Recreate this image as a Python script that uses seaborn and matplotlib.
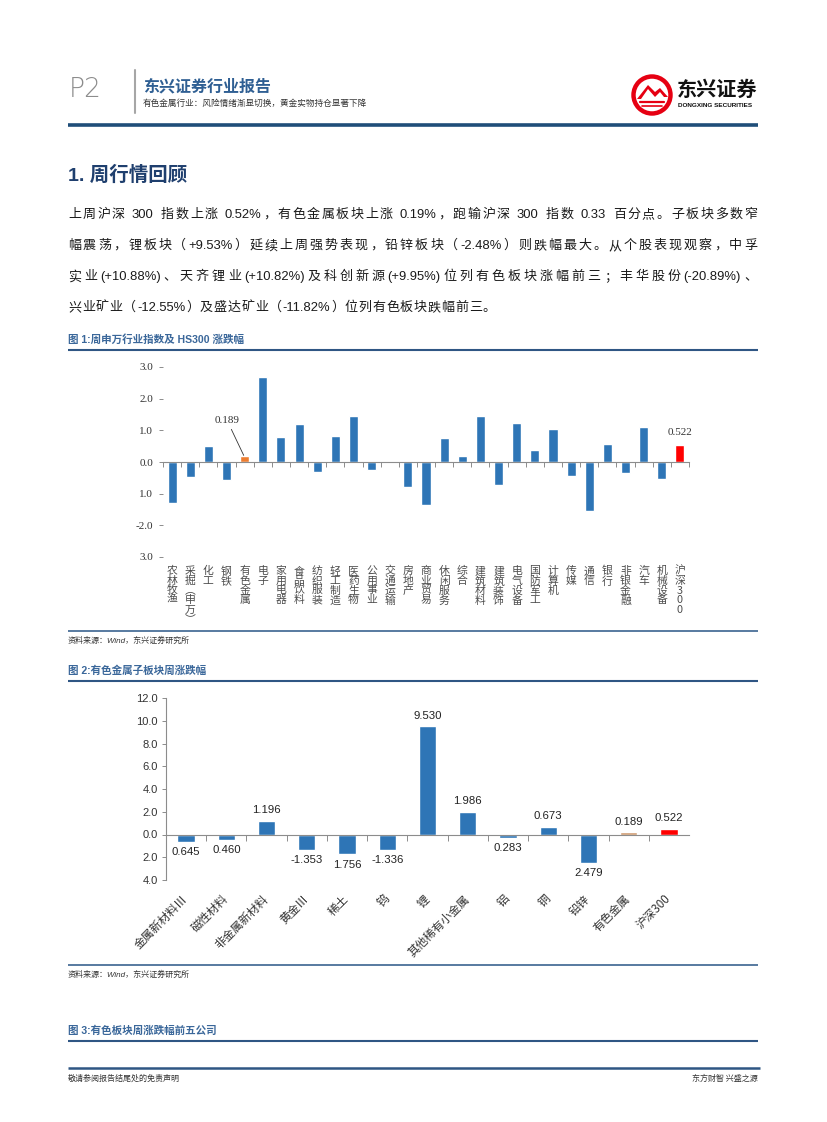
import re
import numpy as np
import pandas as pd
import seaborn as sns
import matplotlib
matplotlib.use("Agg")
import matplotlib.pyplot as plt
from matplotlib.patches import Circle, Polygon
from matplotlib.ticker import FixedLocator

# ---------------- data ----------------
ind_names = ["农林牧渔", "采掘(申万)", "化工", "钢铁", "有色金属", "电子", "家用电器", "食品饮料",
             "纺织服装", "轻工制造", "医药生物", "公用事业", "交通运输", "房地产", "商业贸易",
             "休闲服务", "综合", "建筑材料", "建筑装饰", "电气设备", "国防军工", "计算机", "传媒",
             "通信", "银行", "非银金融", "汽车", "机械设备", "沪深300"]
ind_values = [-1.31, -0.47, 0.51, -0.57, 0.189, 2.70, 0.78, 1.19, -0.32, 0.81, 1.46, -0.26,
              0.01, -0.78, -1.37, 0.75, 0.20, 1.46, -0.72, 1.22, 0.38, 1.03, -0.44, -1.56,
              0.57, -0.35, 1.12, -0.55, 0.522]
ind_ticks = [3, 2, 1, 0, -1, -2, -3]
ind_tick_labels = ["3.0", "2.0", "1.0", "0.0", "1.0", "-2.0", "3.0"]

sub_names = ["金属新材料Ⅲ", "磁性材料", "非金属新材料", "黄金Ⅲ", "稀土", "钨", "锂",
             "其他稀有小金属", "铝", "铜", "铅锌", "有色金属", "沪深300"]
sub_values = [-0.645, -0.460, 1.196, -1.353, -1.756, -1.336, 9.530, 1.986, -0.283, 0.673,
              -2.479, 0.189, 0.522]
sub_value_labels = ["0.645", "0.460", "1.196", "-1.353", "1.756", "-1.336", "9.530", "1.986",
                    "0.283", "0.673", "2.479", "0.189", "0.522"]
sub_ticks = [12, 10, 8, 6, 4, 2, 0, -2, -4]
sub_tick_labels = ["12.0", "10.0", "8.0", "6.0", "4.0", "2.0", "0.0", "2.0", "4.0"]

body_lines = [
    "上周沪深 300 指数上涨 0.52%，有色金属板块上涨 0.19%，跑输沪深 300 指数 0.33 百分点。子板块多数窄",
    "幅震荡，锂板块（+9.53%）延续上周强势表现，铅锌板块（-2.48%）则跌幅最大。从个股表现观察，中孚",
    "实业(+10.88%)、天齐锂业(+10.82%)及科创新源(+9.95%)位列有色板块涨幅前三；丰华股份(-20.89%)、",
    "兴业矿业（-12.55%）及盛达矿业（-11.82%）位列有色板块跌幅前三。",
]

# ---------------- style ----------------
sns.set_theme(style="white")
SANS = ["Liberation Sans", "Noto Sans CJK SC", "DejaVu Sans"]
SERIF = ["Liberation Serif", "Noto Sans CJK SC", "DejaVu Sans"]
CJK = ["Noto Sans CJK SC", "DejaVu Sans"]
plt.rcParams["font.family"] = SANS
plt.rcParams["axes.unicode_minus"] = False

BLUE = "#2e75b6"
NAVY = "#1f4e79"
TITLEBLUE = "#3a679a"

W, H = 827, 1122
fig = plt.figure(figsize=(W / 100, H / 100), dpi=100)
fig.patch.set_facecolor("white")

ov = fig.add_axes([0, 0, 1, 1], zorder=0)
ov.set_xlim(0, W)
ov.set_ylim(H, 0)
ov.axis("off")


def hline(y, x0, x1, color=NAVY, lw=1.5):
    ov.plot([x0, x1], [y, y], color=color, lw=lw, solid_capstyle="butt")


# ---------------- header ----------------
ov.text(69, 89, "P2", fontsize=19, color="#8c8c8c", va="center", ha="left",
        family=["DejaVu Sans"], fontweight="light")
ov.plot([135, 135], [70, 113], color="#a6a6a6", lw=1.5)
ov.text(143, 86, "东兴证券行业报告", fontsize=11.5, fontweight="bold", color="#2f5f93",
        va="center", ha="left", family=CJK)
ov.text(143, 103, "有色金属行业：风险情绪渐显切换，黄金实物持仓显著下降", fontsize=6.2,
        color="#333333", va="center", ha="left", family=CJK)

# logo
ov.add_patch(Circle((652, 95), 18.5, facecolor="white", edgecolor="#e60012", lw=3.2))
ov.add_patch(Polygon([[637, 99], [648, 85], [655, 92], [660, 88], [668, 97], [664, 97],
                      [660, 92], [655, 97], [648, 89], [641, 99]],
                     closed=True, facecolor="#e60012", edgecolor="none"))
ov.plot([640, 664], [102, 102], color="#e60012", lw=1.6)
ov.plot([642, 662], [106, 106], color="#e60012", lw=1.2)
ov.text(677, 89, "东兴证券", fontsize=14.5, fontweight="bold", color="#111111",
        va="center", ha="left", family=CJK)
ov.text(678, 105, "DONGXING SECURITIES", fontsize=4.6, fontweight="bold", color="#111111",
        va="center", ha="left", family=["Liberation Sans"])

hline(125, 68, 758, color=NAVY, lw=2.6)

# ---------------- section title & body ----------------
ov.text(68, 175, "1. 周行情回顾", fontsize=14, fontweight="bold", color="#1f3f6e",
        va="center", ha="left", family=SANS)

renderer = fig.canvas.get_renderer()
BODY_FS = 9.4


def draw_line(line, y, x0=68, x1=757, justify=True):
    toks = re.findall(r"\(?[A-Za-z0-9.%+\-]+\)?| |.", line)
    widths = []
    for t in toks:
        if t == " ":
            widths.append(BODY_FS / 72 * 100 * 0.3)
            continue
        tt = ov.text(0, 0, t, fontsize=BODY_FS, family=SANS)
        widths.append(tt.get_window_extent(renderer).width)
        tt.remove()
    if justify and len(toks) > 1:
        gap = (x1 - x0 - sum(widths)) / (len(toks) - 1)
    else:
        gap = 0.8
    x = x0
    for t, w in zip(toks, widths):
        if t != " ":
            ov.text(x, y, t, fontsize=BODY_FS, family=SANS, color="#1a1a1a",
                    va="center", ha="left")
        x += w + gap


for i, (ln, yy) in enumerate(zip(body_lines, [215, 246, 277, 308])):
    draw_line(ln, yy, justify=(i < 3))

# ---------------- figure captions / rules ----------------
ov.text(68, 340, "图 1:周申万行业指数及 HS300 涨跌幅", fontsize=7.6, fontweight="bold",
        color=TITLEBLUE, va="center", ha="left", family=SANS)
hline(350, 68, 758, color="#2f5684", lw=1.5)
hline(631, 68, 758, color="#4a6f98", lw=1.3)
ov.text(68, 641, "资料来源：Wind，东兴证券研究所", fontsize=5.8, style="italic",
        color="#333333", va="center", ha="left", family=SANS)

ov.text(68, 671, "图 2:有色金属子板块周涨跌幅", fontsize=7.6, fontweight="bold",
        color=TITLEBLUE, va="center", ha="left", family=SANS)
hline(681, 68, 758, color="#2f5684", lw=1.5)
hline(965, 68, 758, color="#4a6f98", lw=1.3)
ov.text(68, 975, "资料来源：Wind，东兴证券研究所", fontsize=5.8, style="italic",
        color="#333333", va="center", ha="left", family=SANS)

ov.text(68, 1031, "图 3:有色板块周涨跌幅前五公司", fontsize=7.6, fontweight="bold",
        color=TITLEBLUE, va="center", ha="left", family=SANS)
hline(1041, 68, 758, color="#2f5684", lw=1.5)

hline(1068, 68, 760, color="#2f5684", lw=1.8)
ov.text(68, 1078, "敬请参阅报告结尾处的免责声明", fontsize=5.8, color="#333333",
        va="center", ha="left", family=CJK)
ov.text(758, 1078, "东方财智 兴盛之源", fontsize=5.8, color="#333333",
        va="center", ha="right", family=CJK)

# ---------------- chart 1 ----------------
ax1 = fig.add_axes([163 / W, 1 - 557 / H, (689 - 163) / W, 190 / H], zorder=2)
ax1.patch.set_alpha(0)
colors1 = [BLUE] * len(ind_names)
colors1[ind_names.index("有色金属")] = "#ed7d31"
colors1[ind_names.index("沪深300")] = "#ff0000"
df1 = pd.DataFrame({"name": ind_names, "value": ind_values})
sns.barplot(data=df1, x="name", y="value", hue="name", palette=colors1, legend=False,
            width=0.5, saturation=1, ax=ax1)
ax1.set_ylim(-3, 3)
ax1.set_xlim(-0.5, len(ind_names) - 0.5)
ax1.set_xlabel("")
ax1.set_ylabel("")
for s in ["top", "right", "left"]:
    ax1.spines[s].set_visible(False)
ax1.spines["bottom"].set_position(("data", 0))
ax1.spines["bottom"].set_color("#8c8c8c")
ax1.spines["bottom"].set_linewidth(0.8)
ax1.set_yticks(ind_ticks)
ax1.set_yticklabels(ind_tick_labels, family=SERIF, fontsize=8, color="#333333")
ax1.tick_params(axis="y", left=True, length=3, width=0.7, color="#8c8c8c", pad=4)


def stack(s):
    s = s.replace("(", "︵").replace(")", "︶")
    return "\n".join(list(s))


ax1.set_xticks(range(len(ind_names)))
ax1.set_xticklabels([stack(n) for n in ind_names], family=CJK, fontsize=7.8,
                    color="#4d4d4d", linespacing=0.95)
ax1.tick_params(axis="x", which="major", length=0, pad=75)
ax1.xaxis.set_minor_locator(FixedLocator(np.arange(-0.5, len(ind_names), 1.0)))
ax1.tick_params(axis="x", which="minor", bottom=True, length=3.5, width=0.7,
                color="#8c8c8c", direction="out")

i_ys = ind_names.index("有色金属")
ax1.annotate(f"{ind_values[i_ys]:.3f}", xy=(i_ys - 0.05, ind_values[i_ys] + 0.02),
             xytext=(-12, 22), textcoords="offset points", ha="center", va="bottom",
             family=SERIF, fontsize=8, color="#333333",
             arrowprops=dict(arrowstyle="-", color="#333333", lw=0.6, shrinkA=1, shrinkB=0))
i_hs = ind_names.index("沪深300")
ax1.annotate(f"{ind_values[i_hs]:.3f}", xy=(i_hs, ind_values[i_hs]),
             xytext=(0, 6), textcoords="offset points", ha="center", va="bottom",
             family=SERIF, fontsize=8, color="#333333")

# ---------------- chart 2 ----------------
ax2 = fig.add_axes([166 / W, 1 - 880 / H, (689 - 166) / W, 182 / H], zorder=2)
ax2.patch.set_alpha(0)
colors2 = [BLUE] * len(sub_names)
colors2[sub_names.index("有色金属")] = "#cf9b70"
colors2[sub_names.index("沪深300")] = "#ff0000"
df2 = pd.DataFrame({"name": sub_names, "value": sub_values})
sns.barplot(data=df2, x="name", y="value", hue="name", palette=colors2, legend=False,
            width=0.43, saturation=1, ax=ax2)
ax2.set_ylim(-4, 12)
ax2.set_xlim(-0.5, len(sub_names) - 0.5)
ax2.set_xlabel("")
ax2.set_ylabel("")
for s in ["top", "right"]:
    ax2.spines[s].set_visible(False)
ax2.spines["left"].set_color("#8c8c8c")
ax2.spines["left"].set_linewidth(0.8)
ax2.spines["bottom"].set_position(("data", 0))
ax2.spines["bottom"].set_color("#8c8c8c")
ax2.spines["bottom"].set_linewidth(0.8)
ax2.set_yticks(sub_ticks)
ax2.set_yticklabels(sub_tick_labels, fontsize=8, color="#333333")
ax2.tick_params(axis="y", left=True, length=3, width=0.7, color="#8c8c8c", pad=3)
ax2.set_xticks(range(len(sub_names)))
ax2.set_xticklabels(sub_names, family=CJK, fontsize=8.4, color="#333333",
                    rotation=45, ha="right", va="center", rotation_mode="anchor")
ax2.tick_params(axis="x", which="major", length=0, pad=45)
ax2.xaxis.set_minor_locator(FixedLocator(np.arange(0.5, len(sub_names) - 1, 1.0)))
ax2.tick_params(axis="x", which="minor", bottom=True, length=4, width=0.7,
                color="#8c8c8c", direction="out")

for i, (v, lab) in enumerate(zip(sub_values, sub_value_labels)):
    pos = v >= 0
    ax2.annotate(lab, xy=(i, v), xytext=(0, 4 if pos else -4), textcoords="offset points",
                 ha="center", va="bottom" if pos else "top", fontsize=8.2, color="#222222")

fig.savefig("out.png", dpi=100, facecolor="white")
